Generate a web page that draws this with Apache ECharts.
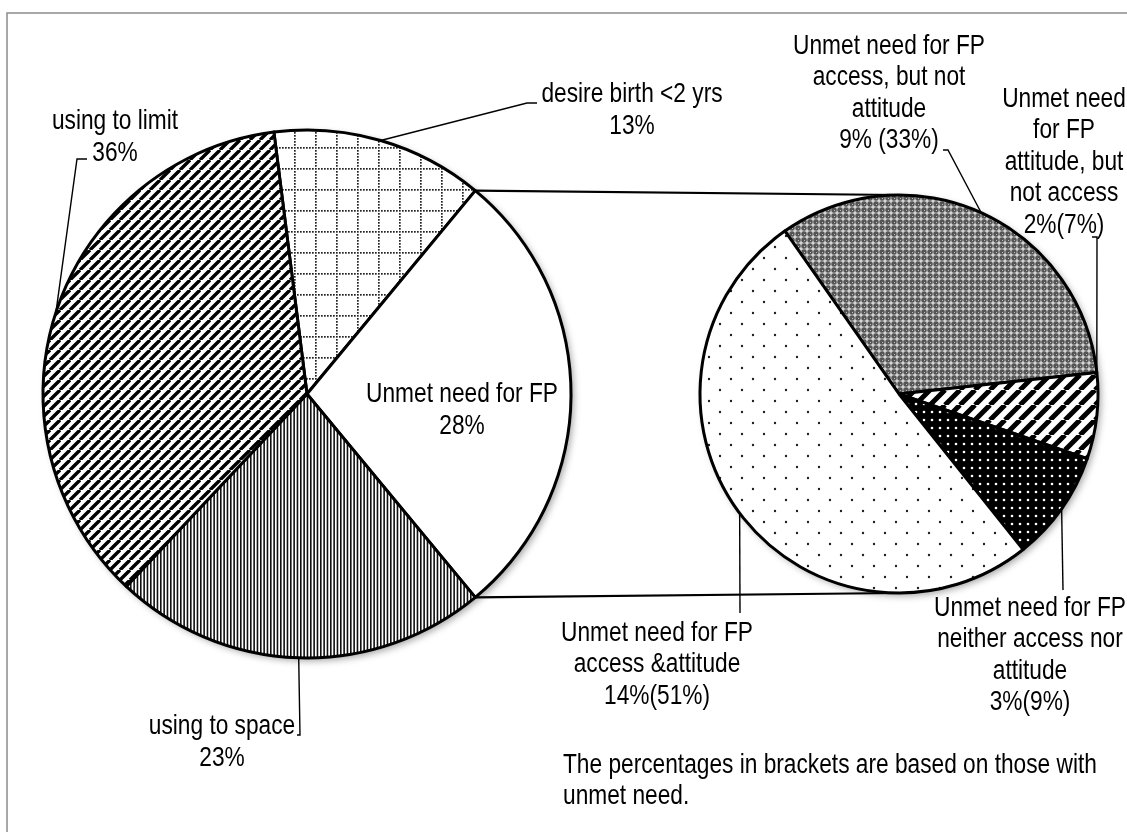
<!DOCTYPE html>
<html>
<head>
<meta charset="utf-8">
<script src="https://cdn.jsdelivr.net/npm/echarts@6/dist/echarts.min.js"></script>
<style>
html,body{margin:0;padding:0;background:#fff;}
#chart{width:1127px;height:832px;}
</style>
</head>
<body>
<div id="chart"></div>
<script>
// ---------------- data ----------------
const mainCategories = ['desire birth <2 yrs', 'Unmet need for FP', 'using to space', 'using to limit'];
const mainValues = [13, 28, 23, 36];                 // % of all women
const subCategories = ['Unmet need for FP\naccess, but not\nattitude',
                       'Unmet need\nfor FP\nattitude, but\nnot access',
                       'Unmet need for FP\nneither access nor\nattitude',
                       'Unmet need for FP\naccess &attitude'];
const subValues = [9, 2, 3, 14];                     // % of all women
const subShares = [33, 7, 9, 51];                    // % of those with unmet need
const subSeparators = [' ', '', '', ''];
const footnote = 'The percentages in brackets are based on those with\nunmet need.';

// ---------------- layout ----------------
const FONT = "'Liberation Sans', Arial, sans-serif";
const FS = 27.7, LH = 31.5, NARROW = 0.82;   // emulate Arial Narrow
const C1 = [307, 394], R1 = 264;
const C2 = [899, 394], R2 = 199;
const splitIndex = 1;
const start1 = mainValues[0] * 3.6 + mainValues[splitIndex] * 1.8;
const start2 = 125;

const mainLabelPos = [[632, 110.5], [462, 410.5], [222, 742.5], [115, 137.5]];
const mainElbow = [[[527, 103], [537, 103]], null, [[300, 735], [297, 735]], [[77, 159], [87, 159]]];
const subLabelPos = [[889, 93.5], [1064, 162], [1030, 655.5], [657, 664.5]];
const subElbow = [[[948, 150], [943, 150]], [[1097, 237], [1092, 237]], [[1063, 590], [1063, 590]], [[740, 613], [740, 613]]];

function midAngles(values, start) {
  const tot = values.reduce((a, b) => a + b, 0);
  let a = start; const out = [];
  values.forEach(v => { const s = v / tot * 360; out.push(a - s / 2); a -= s; });
  return out;
}
function edgePoint(c, r, deg) {
  const t = deg * Math.PI / 180;
  return [c[0] + r * Math.cos(t), c[1] - r * Math.sin(t)];
}
const mainMid = midAngles(mainValues, start1);
const subMid = midAngles(subShares, start2);

const mainLabelText = mainCategories.map((n, i) => n + '\n' + mainValues[i] + '%');
const subLabelText = subCategories.map((n, i) => n + '\n' + subValues[i] + '%' + subSeparators[i] + '(' + subShares[i] + '%)');

// ---------------- patterns ----------------
function makePattern(w, h, draw) {
  const c = document.createElement('canvas'); c.width = w; c.height = h;
  const g = c.getContext('2d'); draw(g, w, h);
  return { image: c, repeat: 'repeat' };
}
function diag(period, lw) {
  return makePattern(period, period, (g, w, h) => {
    g.fillStyle = '#fff'; g.fillRect(0, 0, w, h);
    g.strokeStyle = '#000'; g.lineWidth = lw; g.beginPath();
    for (const k of [-w, 0, w]) { g.moveTo(k, h); g.lineTo(k + w, 0); }
    g.stroke();
  });
}
const patGrid = makePattern(21, 21, (g, w, h) => {
  g.fillStyle = '#fff'; g.fillRect(0, 0, w, h); g.fillStyle = '#222';
  for (let i = 0; i < 21; i += 3) { g.fillRect(i, 0, 1.7, 1.7); if (i > 0) g.fillRect(0, i, 1.7, 1.7); }
});
const patWhite = '#ffffff';
const patVert = makePattern(10, 4, (g, w, h) => {
  g.fillStyle = '#fff'; g.fillRect(0, 0, w, h); g.fillStyle = '#111';
  [0, 3.333, 6.667].forEach(x => g.fillRect(x, 0, 1.6, h));
});
const patDiagWide = diag(10, 3.4);
const patCheck = makePattern(6, 6, (g, w, h) => {
  g.fillStyle = '#555'; g.fillRect(0, 0, w, h); g.fillStyle = '#fff';
  g.fillRect(2.5, 0.5, 1, 5); g.fillRect(0.5, 2.5, 5, 1);
  g.fillStyle = '#bbb'; g.fillRect(0, 0, 1, 1);
});
const patDiagSub = diag(15, 5);
const patBlackDots = makePattern(8, 8, (g, w, h) => {
  g.fillStyle = '#000'; g.fillRect(0, 0, w, h); g.fillStyle = '#fff';
  g.beginPath(); g.arc(4, 4, 1.3, 0, Math.PI * 2); g.fill();
});
const patLightDots = makePattern(22, 22, (g, w, h) => {
  g.fillStyle = '#fff'; g.fillRect(0, 0, w, h); g.fillStyle = '#222';
  g.beginPath(); g.arc(5, 5, 1.2, 0, Math.PI * 2); g.arc(16, 16, 1.2, 0, Math.PI * 2); g.fill();
});
const mainPatterns = [patGrid, patWhite, patVert, patDiagWide];
const subPatterns = [patCheck, patDiagSub, patBlackDots, patLightDots];

// ---------------- chart ----------------
const chart = echarts.init(document.getElementById('chart'), null, { renderer: 'canvas' });

// pie labels only carry the leader lines; visible text is drawn narrow below
const labelBase = { show: true, color: 'rgba(0,0,0,0)', fontFamily: FONT, fontSize: 10, formatter: '.' };
const lineBase = { show: true, length: 10, length2: 10, lineStyle: { color: '#000', width: 1.4 } };

function layoutFn(posArr, elbowArr, mids, c, r) {
  return function (p) {
    const i = p.dataIndex;
    const res = { x: posArr[i][0], y: posArr[i][1], align: 'center', verticalAlign: 'middle' };
    if (elbowArr[i]) res.labelLinePoints = [edgePoint(c, r, mids[i]), elbowArr[i][0], elbowArr[i][1]];
    return res;
  };
}

const sumMain = mainValues.reduce((a, b) => a + b, 0);
const sumSub = subShares.reduce((a, b) => a + b, 0);
function shadowSeries(c, r, v) {
  return {
    type: 'pie', center: c, radius: r, silent: true, z: 1, animation: false,
    data: [{ value: v }], label: { show: false }, labelLine: { show: false },
    itemStyle: { color: '#fff', shadowBlur: 7, shadowColor: 'rgba(0,0,0,0.35)', shadowOffsetX: 3, shadowOffsetY: 3 }
  };
}

const a1 = start1 - mainValues[0] * 3.6;
const a2 = a1 - mainValues[splitIndex] * 3.6;
const pTop = edgePoint(C1, R1, a1), pBot = edgePoint(C1, R1, a2);

function narrowText(text, x, y, align) {
  return {
    type: 'text', silent: true, z: 20, x: x, y: y, scaleX: NARROW,
    style: { text: text, fill: '#000', fontFamily: FONT, fontSize: FS, lineHeight: LH,
             align: align || 'center', verticalAlign: 'middle' }
  };
}

const graphics = [
  { type: 'rect', silent: true, z: 0, shape: { x: 7, y: 13, width: 1400, height: 1000 },
    style: { fill: 'none', stroke: '#8c8c8c', lineWidth: 1.5 } },
  { type: 'line', silent: true, z: 10, shape: { x1: pTop[0], y1: pTop[1], x2: C2[0], y2: C2[1] - R2 },
    style: { stroke: '#000', lineWidth: 2.2 } },
  { type: 'line', silent: true, z: 10, shape: { x1: pBot[0], y1: pBot[1], x2: C2[0], y2: C2[1] + R2 },
    style: { stroke: '#000', lineWidth: 2.2 } }
];
mainLabelText.forEach((t, i) => graphics.push(narrowText(t, mainLabelPos[i][0], mainLabelPos[i][1])));
subLabelText.forEach((t, i) => graphics.push(narrowText(t, subLabelPos[i][0], subLabelPos[i][1])));
graphics.push(narrowText(footnote, 563, 781, 'left'));

chart.setOption({
  animation: false,
  backgroundColor: '#fff',
  series: [
    shadowSeries(C1, R1, sumMain),
    shadowSeries(C2, R2, sumSub),
    {
      type: 'pie', center: C1, radius: R1, startAngle: start1, clockwise: true, z: 2,
      silent: true, avoidLabelOverlap: false, animation: false,
      data: mainCategories.map((n, i) => ({
        name: n, value: mainValues[i], itemStyle: { color: mainPatterns[i] },
        labelLine: { show: i !== splitIndex }
      })),
      label: labelBase,
      labelLine: lineBase,
      labelLayout: layoutFn(mainLabelPos, mainElbow, mainMid, C1, R1),
      itemStyle: { borderColor: '#000', borderWidth: 3 },
      emphasis: { disabled: true }
    },
    {
      type: 'pie', center: C2, radius: R2, startAngle: start2, clockwise: true, z: 2,
      silent: true, avoidLabelOverlap: false, animation: false,
      data: subCategories.map((n, i) => ({
        name: n, value: subShares[i], itemStyle: { color: subPatterns[i] }
      })),
      label: labelBase,
      labelLine: lineBase,
      labelLayout: layoutFn(subLabelPos, subElbow, subMid, C2, R2),
      itemStyle: { borderColor: '#000', borderWidth: 3 },
      emphasis: { disabled: true }
    }
  ],
  graphic: graphics
});
</script>
</body>
</html>
